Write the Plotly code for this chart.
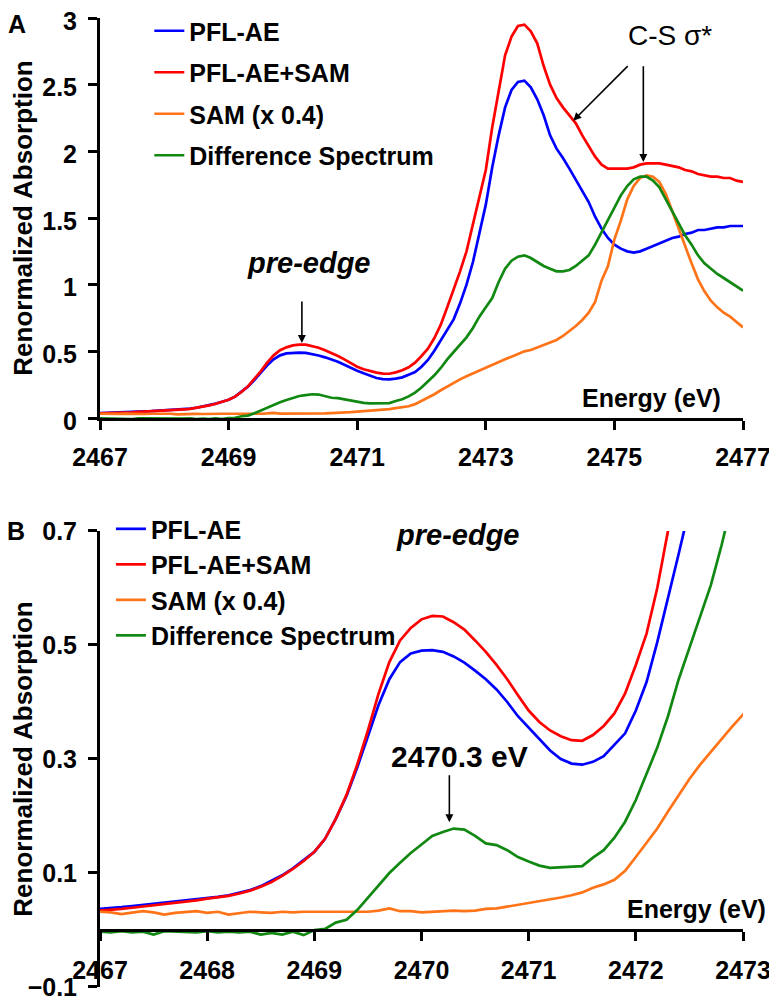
import numpy as np
import plotly.graph_objects as go

# sampling grid of the spectra (eV)
energy = np.round(np.arange(2467.0, 2477.01, 0.1), 1)

pfl_ae = [
    0.037, 0.038, 0.040, 0.042, 0.044, 0.046, 0.047, 0.049, 0.051, 0.054,
    0.056, 0.058, 0.061, 0.065, 0.070, 0.077, 0.086, 0.096, 0.108, 0.122,
    0.137, 0.160, 0.195, 0.235, 0.285, 0.340, 0.395, 0.440, 0.470, 0.485,
    0.490, 0.491, 0.488, 0.480, 0.469, 0.455, 0.440, 0.422, 0.400, 0.375,
    0.355, 0.335, 0.315, 0.300, 0.292, 0.290, 0.295, 0.305, 0.325, 0.345,
    0.385, 0.435, 0.505, 0.580, 0.660, 0.740, 0.860, 1.000, 1.170, 1.380,
    1.600, 1.880, 2.120, 2.330, 2.460, 2.520, 2.530, 2.480, 2.390, 2.270,
    2.120, 2.020, 1.950, 1.870, 1.790, 1.710, 1.620, 1.510, 1.420, 1.350,
    1.300, 1.270, 1.250, 1.240, 1.250, 1.270, 1.290, 1.310, 1.330, 1.350,
    1.360, 1.380, 1.390, 1.410, 1.410, 1.420, 1.430, 1.430, 1.440, 1.440,
    1.440,
]

pfl_ae_sam = [
    0.034, 0.035, 0.037, 0.039, 0.041, 0.043, 0.046, 0.048, 0.049, 0.052,
    0.055, 0.057, 0.060, 0.064, 0.069, 0.076, 0.084, 0.095, 0.107, 0.121,
    0.137, 0.160, 0.195, 0.237, 0.290, 0.350, 0.415, 0.470, 0.508, 0.530,
    0.545, 0.551, 0.550, 0.540, 0.527, 0.508, 0.488, 0.465, 0.440, 0.412,
    0.385, 0.365, 0.350, 0.340, 0.333, 0.332, 0.342, 0.358, 0.380, 0.415,
    0.465, 0.520, 0.600, 0.700, 0.830, 0.960, 1.100, 1.250, 1.450, 1.640,
    1.860, 2.180, 2.460, 2.720, 2.860, 2.940, 2.950, 2.900, 2.810, 2.640,
    2.500, 2.400, 2.330, 2.270, 2.210, 2.120, 2.040, 1.960, 1.900, 1.870,
    1.870, 1.870, 1.870, 1.880, 1.900, 1.910, 1.910, 1.910, 1.900, 1.890,
    1.880, 1.860, 1.850, 1.830, 1.820, 1.810, 1.810, 1.800, 1.800, 1.780,
    1.770,
]

sam_x04 = [
    0.032, 0.031, 0.028, 0.031, 0.033, 0.031, 0.027, 0.030, 0.032, 0.033,
    0.030, 0.032, 0.027, 0.030, 0.032, 0.031, 0.030, 0.032, 0.031, 0.032,
    0.032, 0.031, 0.032, 0.031, 0.031, 0.032, 0.034, 0.038, 0.033, 0.033,
    0.031, 0.032, 0.032, 0.034, 0.033, 0.034, 0.037, 0.038, 0.041, 0.044,
    0.048, 0.051, 0.053, 0.057, 0.061, 0.066, 0.074, 0.080, 0.088, 0.104,
    0.128, 0.152, 0.178, 0.208, 0.237, 0.265, 0.290, 0.313, 0.335, 0.357,
    0.378, 0.400, 0.420, 0.440, 0.460, 0.480, 0.500, 0.510, 0.530, 0.545,
    0.565, 0.585, 0.615, 0.650, 0.690, 0.735, 0.790, 0.870, 1.030, 1.140,
    1.340, 1.480, 1.640, 1.740, 1.800, 1.820, 1.810, 1.770, 1.680, 1.550,
    1.420, 1.280, 1.160, 1.040, 0.950, 0.880, 0.830, 0.790, 0.760, 0.720,
    0.680,
]

difference = [
    -0.003, -0.004, -0.002, -0.004, -0.003, -0.008, -0.002, -0.003, -0.003, -0.004,
    -0.002, -0.004, -0.003, -0.004, -0.003, -0.008, -0.005, -0.008, -0.003, -0.009,
    0.000, 0.002, 0.013, 0.018, 0.035, 0.057, 0.080, 0.100, 0.118, 0.135,
    0.150, 0.165, 0.172, 0.178, 0.176, 0.165, 0.152, 0.149, 0.140, 0.128,
    0.120, 0.113, 0.109, 0.110, 0.110, 0.112, 0.127, 0.140, 0.162, 0.190,
    0.228, 0.274, 0.320, 0.375, 0.440, 0.495, 0.550, 0.605, 0.675, 0.760,
    0.830, 0.900, 1.020, 1.120, 1.180, 1.210, 1.220, 1.200, 1.170, 1.140,
    1.120, 1.100, 1.100, 1.110, 1.140, 1.180, 1.220, 1.300, 1.390, 1.480,
    1.580, 1.670, 1.740, 1.790, 1.810, 1.810, 1.780, 1.730, 1.640, 1.550,
    1.450, 1.370, 1.300, 1.220, 1.160, 1.120, 1.080, 1.050, 1.020, 0.990,
    0.955,
]

series_names = ["PFL-AE", "PFL-AE+SAM", "SAM (x 0.4)", "Difference Spectrum"]
series_values = [pfl_ae, pfl_ae_sam, sam_x04, difference]
series_colors = ["#0000FF", "#FF0000", "#FF7418", "#118811"]

top_xticks = [2467, 2469, 2471, 2473, 2475, 2477]
top_yticks = [0, 0.5, 1, 1.5, 2, 2.5, 3]
top_yticktext = ["0", "0.5", "1", "1.5", "2", "2.5", "3"]
bottom_xticks = [2467, 2468, 2469, 2470, 2471, 2472, 2473]
bottom_yticks = [-0.1, 0.1, 0.3, 0.5, 0.7]

FONT = "Liberation Sans, Arial, sans-serif"
bottom_domain = [0.0, 0.4706]
top_domain = [0.5872, 1.0]

fig = go.Figure()
for name, vals, color in zip(series_names, series_values, series_colors):
    fig.add_trace(go.Scatter(x=energy, y=vals, mode="lines", name=name,
                             line=dict(color=color, width=2.7),
                             xaxis="x", yaxis="y", legend="legend",
                             legendgroup="a" + name))
for name, vals, color in zip(series_names, series_values, series_colors):
    fig.add_trace(go.Scatter(x=energy, y=vals, mode="lines", name=name,
                             line=dict(color=color, width=2.7),
                             xaxis="x2", yaxis="y2", legend="legend2",
                             legendgroup="b" + name))

axis_style = dict(showline=True, linecolor="black", linewidth=3, ticks="outside",
                  ticklen=9, tickwidth=3, tickcolor="black", showgrid=False,
                  zeroline=False, automargin=False, ticklabeloverflow="allow",
                  tickfont=dict(family=FONT, size=25, color="black", weight="bold"))

title_font = dict(family=FONT, size=26, color="black", weight="bold")
legend_font = dict(family=FONT, size=25, color="black", weight="bold")

# the page body adds an 8 px offset, so the figure is 8 px smaller and margins shifted
fig.update_layout(
    width=769, height=995,
    margin=dict(l=92, r=34, t=10, b=16, autoexpand=False),
    plot_bgcolor="white", paper_bgcolor="white",
    font=dict(family=FONT, color="black"),
    xaxis=dict(domain=[0, 1], anchor="y", range=[2467, 2477], tickvals=top_xticks,
               ticklabelstandoff=6, **axis_style),
    yaxis=dict(domain=top_domain, anchor="x", range=[0, 3], tickvals=top_yticks,
               ticktext=top_yticktext, ticklabelstandoff=6, ticklabelshift=3,
               title=dict(text="Renormalized Absorption", font=title_font, standoff=17),
               **axis_style),
    xaxis2=dict(domain=[0, 1], anchor="free",
                position=bottom_domain[0] + (bottom_domain[1] - bottom_domain[0]) * 0.125,
                range=[2467, 2473], tickvals=bottom_xticks, ticklabelstandoff=8,
                **axis_style),
    yaxis2=dict(domain=bottom_domain, anchor="x2", range=[-0.1, 0.7],
                tickvals=bottom_yticks, ticklabelstandoff=6,
                title=dict(text="Renormalized Absorption", font=title_font, standoff=10),
                **axis_style),
    legend=dict(x=0.0767, y=1.0103, xanchor="left", yanchor="top", tracegroupgap=6,
                bgcolor="rgba(0,0,0,0)", font=legend_font),
    legend2=dict(x=0.017, y=0.4963, xanchor="left", yanchor="top", tracegroupgap=0,
                 bgcolor="rgba(0,0,0,0)", font=legend_font),
)

big_bold = dict(family=FONT, size=29, color="black", weight="bold")
bold = dict(family=FONT, size=25, color="black", weight="bold")
annotations = [
    dict(text="A", xref="paper", yref="paper", x=-0.129, y=1.0103, xanchor="center",
         yanchor="top", showarrow=False,
         font=dict(family=FONT, size=25, color="black", weight="bold")),
    dict(text="B", xref="paper", yref="paper", x=-0.131, y=0.4706, xanchor="center",
         yanchor="middle", showarrow=False,
         font=dict(family=FONT, size=25, color="black", weight="bold")),
    dict(text="C-S σ*", xref="x", yref="y", x=2475.86, y=2.87, showarrow=False,
         font=dict(family=FONT, size=28, color="black")),
    dict(text="", xref="x", yref="y", x=2474.36, y=2.23, ax=2475.23, ay=2.65,
         axref="x", ayref="y", showarrow=True, arrowhead=2, arrowwidth=1.6, arrowcolor="black"),
    dict(text="", xref="x", yref="y", x=2475.45, y=1.92, ax=2475.45, ay=2.65,
         axref="x", ayref="y", showarrow=True, arrowhead=2, arrowwidth=1.6, arrowcolor="black"),
    dict(text="<i>pre-edge</i>", xref="x", yref="y", x=2470.25, y=1.16, showarrow=False,
         font=big_bold),
    dict(text="", xref="x", yref="y", x=2470.14, y=0.563, ax=2470.14, ay=0.885,
         axref="x", ayref="y", showarrow=True, arrowhead=2, arrowwidth=1.6, arrowcolor="black"),
    dict(text="Energy (eV)", xref="x", yref="y", x=2475.58, y=0.15, showarrow=False, font=bold),
    dict(text="<i>pre-edge</i>", xref="x2", yref="y2", x=2470.34, y=0.693, showarrow=False,
         font=big_bold),
    dict(text="2470.3 eV", xref="x2", yref="y2", x=2470.35, y=0.305, showarrow=False,
         font=dict(family=FONT, size=30, color="black", weight="bold")),
    dict(text="", xref="x2", yref="y2", x=2470.26, y=0.189, ax=2470.26, ay=0.274,
         axref="x2", ayref="y2", showarrow=True, arrowhead=2, arrowwidth=1.6, arrowcolor="black"),
    dict(text="Energy (eV)", xref="x2", yref="y2", x=2472.57, y=0.036, showarrow=False, font=bold),
]
fig.update_layout(annotations=annotations)

fig.write_html("out.html")
